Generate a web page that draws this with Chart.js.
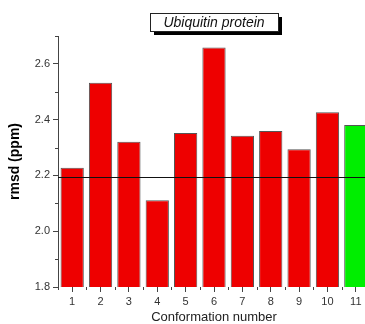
<!DOCTYPE html>
<html>
<head>
<meta charset="utf-8">
<script src="https://cdn.jsdelivr.net/npm/chart.js@4/dist/chart.umd.min.js"></script>
<style>
  html, body { margin: 0; padding: 0; background: #fff; overflow: hidden; }
  #wrap { position: relative; width: 370px; height: 324px; }
</style>
</head>
<body>
<div id="wrap"><canvas id="chart"></canvas></div>
<script>
const conformations = ["1", "2", "3", "4", "5", "6", "7", "8", "9", "10", "11"];
const rmsd = [2.228, 2.532, 2.321, 2.111, 2.352, 2.659, 2.342, 2.359, 2.294, 2.427, 2.381];
const barColors = ["#ee0000", "#ee0000", "#ee0000", "#ee0000", "#ee0000", "#ee0000",
                   "#ee0000", "#ee0000", "#ee0000", "#ee0000", "#00ee00"];
const referenceLine = 2.196;
const yMinorTicks = [1.9, 2.1, 2.3, 2.5, 2.7];
const titleText = "Ubiquitin protein";

const FONT = "'Liberation Sans', Arial, sans-serif";

// minor ticks + reference line + boxed title
const extras = {
  id: "extras",
  afterDraw(chart){
    const ctx = chart.ctx;
    const x = chart.scales.x, y = chart.scales.y;
    const area = chart.chartArea;
    ctx.save();
    ctx.strokeStyle = "#444";
    ctx.lineWidth = 1;
    // y minor ticks
    yMinorTicks.forEach(v => {
      const py = Math.round(y.getPixelForValue(v)) + 0.5;
      ctx.beginPath();
      ctx.moveTo(area.left - 3, py);
      ctx.lineTo(area.left, py);
      ctx.stroke();
    });
    // x minor ticks at category boundaries
    for(let i = 0; i <= conformations.length; i++){
      const px = Math.round(x.getPixelForValue(i - 0.5)) + 0.5;
      ctx.beginPath();
      ctx.moveTo(px, area.bottom);
      ctx.lineTo(px, area.bottom + 3);
      ctx.stroke();
    }
    // reference line
    const ly = Math.round(y.getPixelForValue(referenceLine)) + 0.5;
    ctx.strokeStyle = "#111";
    ctx.beginPath();
    ctx.moveTo(area.left, ly);
    ctx.lineTo(area.right, ly);
    ctx.stroke();

    // title box with shadow
    const bx = 150, by = 13, bw = 128, bh = 18;
    ctx.fillStyle = "#000";
    ctx.fillRect(bx + 4, by + 4, bw, bh);
    ctx.fillStyle = "#fff";
    ctx.fillRect(bx, by, bw, bh);
    ctx.strokeStyle = "#222";
    ctx.strokeRect(bx + 0.5, by + 0.5, bw, bh);
    ctx.fillStyle = "#111";
    ctx.font = "italic 14px " + FONT;
    ctx.textAlign = "center";
    ctx.textBaseline = "middle";
    ctx.fillText(titleText, bx + bw / 2, by + bh / 2 + 1);
    ctx.restore();
  }
};

new Chart(document.getElementById("chart"), {
  type: "bar",
  data: {
    labels: conformations,
    datasets: [{
      data: rmsd,
      backgroundColor: barColors,
      borderColor: "#555",
      borderWidth: 1,
      borderSkipped: "bottom",
      categoryPercentage: 0.82,
      barPercentage: 1
    }]
  },
  options: {
    responsive: true,
    maintainAspectRatio: false,
    animation: false,
    layout: { padding: { top: 36, right: 0, left: 0, bottom: 0 } },
    plugins: { legend: { display: false }, tooltip: { enabled: false } },
    scales: {
      x: {
        offset: true,
        afterFit: s => { s.height = 37; },
        grid: { offset: false, drawOnChartArea: false, drawTicks: true, tickLength: 5, color: "#444" },
        border: { display: false },
        ticks: { color: "#333", font: { family: FONT, size: 11 }, padding: 3, maxRotation: 0 },
        title: { display: true, text: "Conformation number", color: "#222",
                 font: { family: FONT, size: 13, lineHeight: 1 }, padding: { top: 0, bottom: 0 } }
      },
      y: {
        min: 1.8,
        max: 2.7,
        afterFit: s => { s.width = 58; },
        afterBuildTicks: s => {
          s.ticks = [1.8, 2.0, 2.2, 2.4, 2.6].map(v => ({ value: v }));
        },
        grid: { drawOnChartArea: false, drawTicks: true, tickLength: 5, color: "#444" },
        border: { display: true, color: "#444", width: 1 },
        ticks: { color: "#333", font: { family: FONT, size: 11 }, padding: 3,
                 callback: v => v.toFixed(1) },
        title: { display: true, text: "rmsd (ppm)", color: "#000",
                 font: { family: FONT, size: 14, weight: "bold" }, padding: { top: 7, bottom: 4 } }
      }
    }
  },
  plugins: [extras]
});
</script>
</body>
</html>
